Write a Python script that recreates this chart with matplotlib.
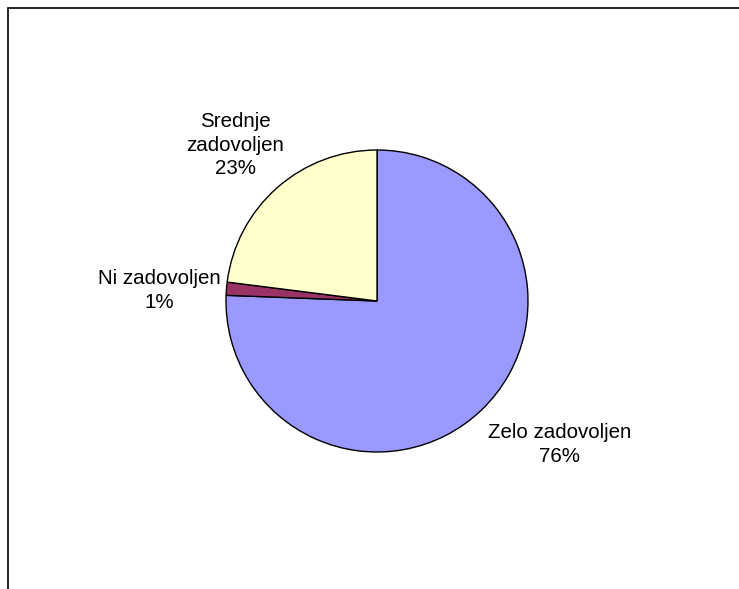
import matplotlib
matplotlib.use('Agg')
import matplotlib.pyplot as plt
from matplotlib.patches import Rectangle

# survey answers and their shares (%)
labels = ['Zelo zadovoljen', 'Ni zadovoljen', 'Srednje zadovoljen']
shares = [75.6, 1.4, 23.0]
colors = ['#9999FF', '#993366', '#FFFFCC']
# text placement for each slice label (in pie radius units)
label_pos = [(1.21, -0.95), (-1.44, 0.07), (-0.94, 1.03)]
label_text = ['Zelo zadovoljen', 'Ni zadovoljen', 'Srednje\nzadovoljen']

W, H = 739, 589
fig = plt.figure(figsize=(W / 100, H / 100), dpi=100)
plt.rcParams['font.family'] = ['Liberation Sans', 'DejaVu Sans']

# chart frame (open on the right and bottom)
fig.patches.append(Rectangle((8 / W, -0.1), 1.2, 1 - 8 / H + 0.1, transform=fig.transFigure,
                             fill=False, edgecolor='black', linewidth=1.2))

cx, cy, r = 377, 301, 151
ax = fig.add_axes([(cx - r) / W, (H - cy - r) / H, 2 * r / W, 2 * r / H])
ax.pie(shares, colors=colors, startangle=90, counterclock=False,
       wedgeprops=dict(edgecolor='black', linewidth=1.0))
ax.set_xlim(-1, 1)
ax.set_ylim(-1, 1)
ax.set_aspect('equal')
ax.axis('off')

for txt, s, (x, y) in zip(label_text, shares, label_pos):
    ax.text(x, y, '%s\n%d%%' % (txt, round(s)), ha='center', va='center',
            fontsize=14.8, linespacing=1.3, clip_on=False)

fig.savefig('out.png', dpi=100)
